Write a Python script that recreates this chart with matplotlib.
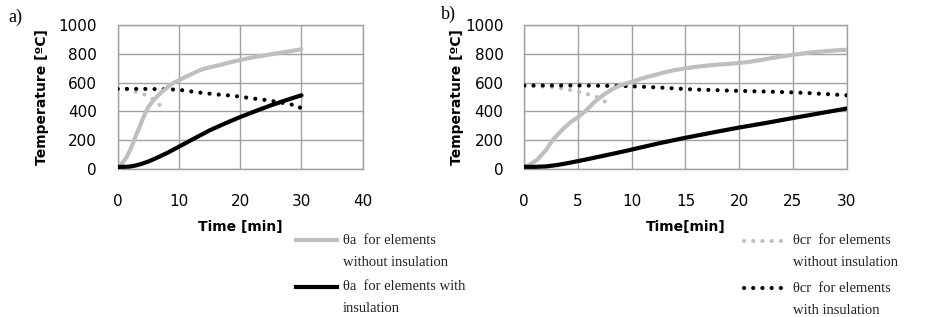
import matplotlib
matplotlib.use("Agg")
import matplotlib.pyplot as plt
from matplotlib.lines import Line2D

# ---- data (a) ----
a_time_gray = [0, 0.5, 1, 1.5, 2, 2.5, 3, 3.6, 4.2, 5, 6, 7, 8, 9, 10, 11, 12, 13.5, 15, 16.5, 18, 20, 22, 24.4, 27, 30]
a_gray_solid = [15, 30, 55, 86, 130, 180, 235, 294, 360, 430, 485, 528, 563, 595, 617, 638, 658, 688, 706, 720, 737, 757, 775, 792, 810, 831]
a_time_black = [0, 1, 2, 3, 4, 5, 6, 7, 8, 9, 10, 12.5, 15, 17.5, 20, 22.5, 25, 27.5, 30]
a_black_solid = [15, 15, 17, 25, 37, 52, 70, 90, 110, 132, 155, 212, 268, 316, 361, 402, 442, 478, 512]
a_time_crb = [0, 2, 4, 6, 8, 10, 11.6, 13.1, 14.6, 16.1, 17.6, 19, 20.5, 22, 23.5, 25, 26.5, 28, 29.5, 30.5]
a_black_dot = [556, 556, 556, 555, 554, 550, 541, 532, 525, 518, 513, 508, 499, 490, 483, 474, 463, 450, 439, 390]
a_time_crg = [0, 1.7, 3.1, 4.5, 5.8, 7.0]
a_gray_dot = [557, 555, 534, 515, 482, 440]

# ---- data (b) ----
b_time_gray = [0, 0.5, 1.2, 2, 2.7, 3.5, 4.3, 5, 5.8, 6.6, 7.4, 8.2, 9, 10, 11, 12, 13, 14, 15, 16, 17, 18, 19, 20,
               21, 22, 23, 24, 25, 26, 27, 28, 29, 30]
b_gray_solid = [17, 30, 64, 130, 207, 270, 325, 360, 410, 470, 517, 555, 583, 605, 630, 650, 670, 687, 699, 710, 718, 725, 730, 736,
                745, 757, 770, 782, 793, 803, 812, 818, 824, 828]
b_time_black = [0, 1, 2, 3, 4, 5, 6, 7, 8, 9, 10, 12.5, 15, 17.5, 20, 22.5, 25, 27.5, 30]
b_black_solid = [15, 15, 18, 27, 40, 55, 70, 86, 102, 118, 135, 178, 217, 253, 288, 320, 354, 387, 420]
b_time_crb = [0, 5, 9.6, 13, 15.8, 19.8, 23.3, 26, 30]
b_black_dot = [580, 580, 576, 564, 552, 543, 536, 529, 512]
b_time_crg = [0, 2.5, 3.5, 4.3, 5.2, 6.0, 6.8, 7.6]
b_gray_dot = [580, 570, 560, 548, 533, 517, 500, 464]

yticks = [0, 200, 400, 600, 800, 1000]
a_xticks = [0, 10, 20, 30, 40]
b_xticks = [0, 5, 10, 15, 20, 25, 30]

GRAY = "#BFBFBF"
GRID = "#A0A0A0"
DOT = (0, (0.01, 2.2))

fig = plt.figure(figsize=(9.28, 3.17), dpi=100)
ax1 = fig.add_axes([117.7/928, 1-169/317, (362.7-117.7)/928, 144/317])
ax2 = fig.add_axes([524.3/928, 1-169/317, (846.7-524.3)/928, 144/317])

def style(ax, xticks, xmax, xlabel, ylpad):
    ax.set_xlim(0, xmax)
    ax.set_ylim(0, 1000)
    ax.set_xticks(xticks)
    ax.set_yticks(yticks)
    ax.grid(True, color=GRID, linewidth=1.0)
    ax.set_axisbelow(True)
    for s in ax.spines.values():
        s.set_color(GRID)
        s.set_linewidth(1.0)
    ax.tick_params(length=0, labelsize=11, colors="black")
    ax.tick_params(axis="x", pad=18)
    ax.tick_params(axis="y", pad=15)
    ax.set_xlabel(xlabel, fontsize=10, fontweight="bold", labelpad=8)
    ax.set_ylabel("Temperature [ºC]", fontsize=10, fontweight="bold", labelpad=ylpad)

def draw(ax, tg, g, tb, b, tcg, cg, tcb, cb):
    ax.plot(tcg, cg, color=GRAY, lw=3, linestyle=DOT, dash_capstyle="round", zorder=3)
    ax.plot(tcb, cb, color="black", lw=3, linestyle=DOT, dash_capstyle="round", zorder=4)
    ax.plot(tg, g, color=GRAY, lw=3, solid_capstyle="round", zorder=5)
    ax.plot(tb, b, color="black", lw=3, solid_capstyle="round", zorder=6)

draw(ax1, a_time_gray, a_gray_solid, a_time_black, a_black_solid,
     a_time_crg, a_gray_dot, a_time_crb, a_black_dot)
draw(ax2, b_time_gray, b_gray_solid, b_time_black, b_black_solid,
     b_time_crg, b_gray_dot, b_time_crb, b_black_dot)
style(ax1, a_xticks, 40, "Time [min]", 7)
style(ax2, b_xticks, 30, "Time[min]", 1)

fig.text(8/928, 1-17/317, "a)", family="Liberation Serif", fontsize=13, va="center", ha="left")
fig.text(441/928, 1-14/317, "b)", family="Liberation Serif", fontsize=13, va="center", ha="left")

def legend_entry(x0, x1, y, text1, text2, color, ls):
    fig.add_artist(Line2D([x0/928, x1/928], [1-y/317, 1-y/317], color=color, lw=3,
                          linestyle=ls, dash_capstyle="round", transform=fig.transFigure))
    fig.text((x1+6)/928, 1-y/317, text1, family="Liberation Serif", fontsize=10.5,
             va="center", ha="left", color="#222222")
    fig.text((x1+6)/928, 1-(y+22)/317, text2, family="Liberation Serif", fontsize=10.5,
             va="center", ha="left", color="#222222")

legend_entry(296, 337, 240, "θa  for elements", "without insulation", GRAY, "-")
legend_entry(296, 337, 287, "θa  for elements with", "insulation", "black", "-")
legend_entry(744, 787, 241, "θcr  for elements", "without insulation", GRAY, DOT)
legend_entry(744, 787, 288, "θcr  for elements", "with insulation", "black", DOT)

fig.savefig("out.png", dpi=100)
